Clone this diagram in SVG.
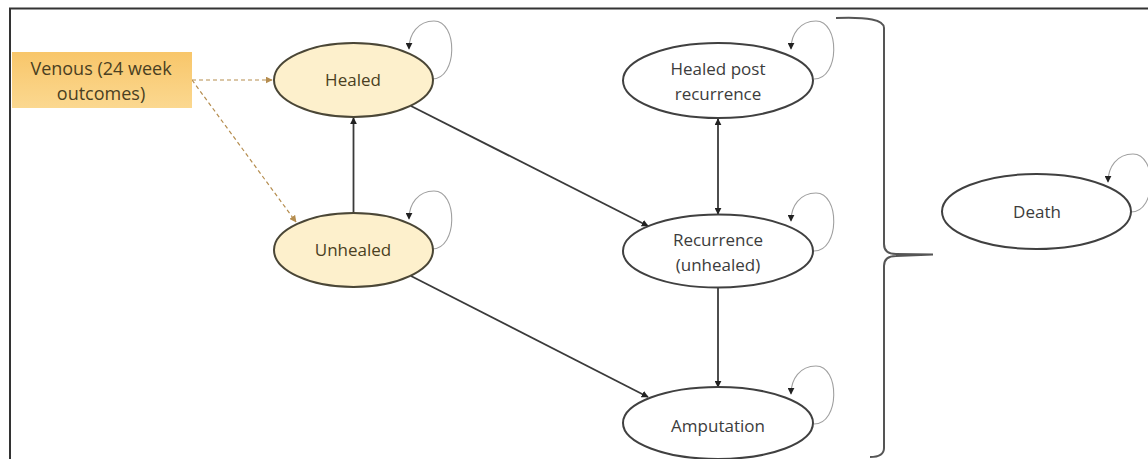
<svg xmlns="http://www.w3.org/2000/svg" width="1148" height="459" viewBox="0 0 1148 459">
<style>
text{font-family:"Open Sans","Noto Sans","Liberation Sans",sans-serif;font-size:17px;text-anchor:middle}
.st{fill:#fff;stroke:#404040;stroke-width:2}
.or{fill:#fdf0cc;stroke:#4a4636;stroke-width:2}
.tw{fill:#3c3c3c}
.to{fill:#4a3f22}
.edge{fill:none;stroke:#3a3a3a;stroke-width:1.8}
.loop{fill:none;stroke:#a0a0a0;stroke-width:1.1}
.dash{fill:none;stroke:#b58d4f;stroke-width:1.2;stroke-dasharray:4 3}
</style>
<defs>
<linearGradient id="og" x1="0" y1="0" x2="0" y2="1">
<stop offset="0" stop-color="#f8c66a"/>
<stop offset="1" stop-color="#fbd890"/>
</linearGradient>
<marker id="ah" viewBox="0 0 10 10" refX="9" refY="5" markerWidth="7" markerHeight="7" markerUnits="userSpaceOnUse" orient="auto-start-reverse">
<path d="M0,0 L10,5 L0,10 z" fill="#222"/>
</marker>
<marker id="ahd" viewBox="0 0 10 10" refX="9" refY="5" markerWidth="7" markerHeight="7" markerUnits="userSpaceOnUse" orient="auto">
<path d="M0,0 L10,5 L0,10 z" fill="#b58d4f"/>
</marker>
</defs>
<rect width="1148" height="459" fill="#fff"/>
<path d="M10,459 L10,8.5 L1148,8.5" fill="none" stroke="#333" stroke-width="2"/>

<g id="connectors">
<line class="dash" x1="192" y1="80" x2="272" y2="80" marker-end="url(#ahd)"/>
<line class="dash" x1="192" y1="80" x2="296" y2="222" marker-end="url(#ahd)"/>
<line class="edge" x1="353.5" y1="213" x2="353.5" y2="118" marker-end="url(#ah)"/>
<line class="edge" x1="411" y1="106" x2="648" y2="226" marker-end="url(#ah)"/>
<line class="edge" x1="411" y1="276" x2="648" y2="397" marker-end="url(#ah)"/>
<line class="edge" x1="718" y1="119" x2="718" y2="214" marker-start="url(#ah)" marker-end="url(#ah)"/>
<line class="edge" x1="718" y1="288" x2="718" y2="387" marker-end="url(#ah)"/>
<path class="loop" d="M432,79 C458,79 458,21 434,21 C418,21 409,34 409,49" marker-end="url(#ah)"/>
<path class="loop" d="M432,79 C458,79 458,21 434,21 C418,21 409,34 409,49" transform="translate(0,170)" marker-end="url(#ah)"/>
<path class="loop" d="M432,79 C458,79 458,21 434,21 C418,21 409,34 409,49" transform="translate(382,0)" marker-end="url(#ah)"/>
<path class="loop" d="M432,79 C458,79 458,21 434,21 C418,21 409,34 409,49" transform="translate(382,172)" marker-end="url(#ah)"/>
<path class="loop" d="M432,79 C458,79 458,21 434,21 C418,21 409,34 409,49" transform="translate(382,345)" marker-end="url(#ah)"/>
<path class="loop" d="M432,79 C458,79 458,21 434,21 C418,21 409,34 409,49" transform="translate(699,133)" marker-end="url(#ah)"/>
<path d="M836,18 Q884,16 884,28 L884,244 Q884,254 896,254 L933,254.5 L896,256 Q884,256 884,266 L884,448 Q884,457 870,457" fill="none" stroke="#555" stroke-width="2"/>
</g>

<g id="venous">
<rect x="12" y="52" width="180" height="56" fill="url(#og)"/>
<text class="to" x="101" y="75" style="font-size:18px">Venous (24 week</text>
<text class="to" x="101" y="100" style="font-size:18px">outcomes)</text>
</g>
<g id="healed">
<ellipse class="or" cx="353.5" cy="80" rx="79.5" ry="37"/>
<text class="to" x="353" y="86">Healed</text>
</g>
<g id="unhealed">
<ellipse class="or" cx="353.5" cy="250" rx="79.5" ry="37"/>
<text class="to" x="353" y="256">Unhealed</text>
</g>
<g id="healed-post-recurrence">
<ellipse class="st" cx="718" cy="80.5" rx="95" ry="37.5"/>
<text class="tw" x="718" y="75">Healed post</text>
<text class="tw" x="718" y="100">recurrence</text>
</g>
<g id="recurrence">
<ellipse class="st" cx="718" cy="251" rx="95" ry="36.5"/>
<text class="tw" x="718" y="246">Recurrence</text>
<text class="tw" x="718" y="271">(unhealed)</text>
</g>
<g id="amputation">
<ellipse class="st" cx="718" cy="423" rx="95" ry="36"/>
<text class="tw" x="718" y="432">Amputation</text>
</g>
<g id="death">
<ellipse class="st" cx="1036.5" cy="211.5" rx="94.5" ry="37.5"/>
<text class="tw" x="1037" y="218">Death</text>
</g>
</svg>
